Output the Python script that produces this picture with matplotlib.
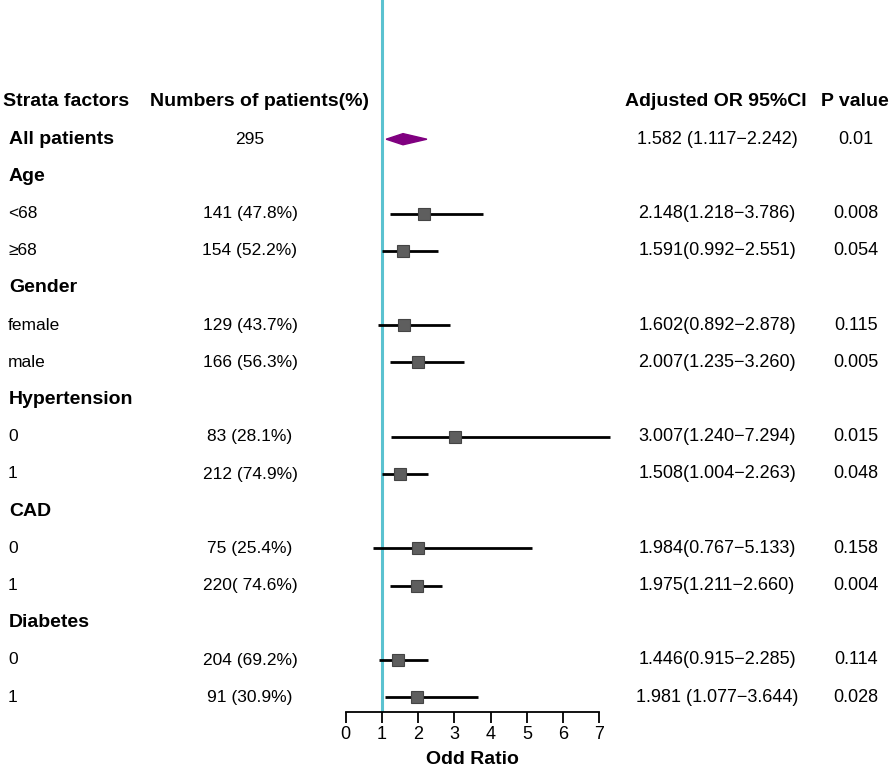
import matplotlib.pyplot as plt
import matplotlib.transforms as mtransforms

plt.rcParams['font.family'] = ['Liberation Sans', 'DejaVu Sans']

# rows, top to bottom (header is row 0)
labels = ["All patients", "Age", "<68", "≥68", "Gender", "female", "male",
          "Hypertension", "0", "1", "CAD", "0", "1", "Diabetes", "0", "1"]
bold_rows = ["All patients", "Age", "Gender", "Hypertension", "CAD", "Diabetes"]
numbers = ["295", "", "141 (47.8%)", "154 (52.2%)", "", "129 (43.7%)", "166 (56.3%)",
           "", "83 (28.1%)", "212 (74.9%)", "", "75 (25.4%)", "220( 74.6%)",
           "", "204 (69.2%)", "91 (30.9%)"]
or_text = ["1.582 (1.117\u22122.242)", "", "2.148(1.218\u22123.786)", "1.591(0.992\u22122.551)",
           "", "1.602(0.892\u22122.878)", "2.007(1.235\u22123.260)", "",
           "3.007(1.240\u22127.294)", "1.508(1.004\u22122.263)", "",
           "1.984(0.767\u22125.133)", "1.975(1.211\u22122.660)", "",
           "1.446(0.915\u22122.285)", "1.981 (1.077\u22123.644)"]
p_text = ["0.01", "", "0.008", "0.054", "", "0.115", "0.005", "", "0.015", "0.048",
          "", "0.158", "0.004", "", "0.114", "0.028"]

# odds ratios (None for group headers)
or_val = [1.582, None, 2.148, 1.591, None, 1.602, 2.007, None, 3.007, 1.508,
          None, 1.984, 1.975, None, 1.446, 1.981]
ci_lo = [1.117, None, 1.218, 0.992, None, 0.892, 1.235, None, 1.240, 1.004,
         None, 0.767, 1.211, None, 0.915, 1.077]
ci_hi = [2.242, None, 3.786, 2.551, None, 2.878, 3.260, None, 7.294, 2.263,
         None, 5.133, 2.660, None, 2.285, 3.644]

W, H = 893, 775
fig = plt.figure(figsize=(W / 100, H / 100), dpi=100)
ax_left, ax_right, ax_bottom = 345.7, 599.3, 711.7
ax = fig.add_axes([ax_left / W, (H - ax_bottom) / H, (ax_right - ax_left) / W, ax_bottom / H])

row_h = 37.2
top_row_px = 102
ax.set_xlim(0, 7)
ax.set_ylim((ax_bottom - top_row_px) / row_h, -top_row_px / row_h)

for s in ["top", "right", "left"]:
    ax.spines[s].set_visible(False)
ax.spines["bottom"].set_linewidth(1.3)
ax.set_yticks([])
ax.set_xticks(range(0, 8))
ax.tick_params(axis="x", length=8, width=1.3, labelsize=13, pad=2)
ax.set_xlabel("Odd Ratio", fontsize=14, fontweight="bold", labelpad=6)

ax.axvline(1, color="#5bc2d0", lw=2.2, zorder=1)

for i, (o, lo, hi) in enumerate(zip(or_val, ci_lo, ci_hi)):
    y = i + 1
    if o is None:
        continue
    if i == 0:
        h = 0.15
        ax.fill([lo, o, hi, o], [y, y - h, y, y + h], color="#800080", zorder=3,
                clip_on=False)
    else:
        ax.plot([lo, hi], [y, y], color="black", lw=2, zorder=2, clip_on=False,
                solid_capstyle="butt")
        ax.plot(o, y, marker="s", ms=8.5, color="#5e5e5e", mec="#444444", mew=0.8,
                zorder=3, clip_on=False)

# text columns: x in figure pixels, y in data rows
trans = mtransforms.blended_transform_factory(
    mtransforms.Affine2D().scale(1 / W, 1) + fig.transFigure, ax.transData)

hs = 14
ax.text(3, 0, "Strata factors", transform=trans, ha="left", va="center",
        fontsize=hs, fontweight="bold")
ax.text(259, 0, "Numbers of patients(%)", transform=trans, ha="center", va="center",
        fontsize=hs, fontweight="bold")
ax.text(716, 0, "Adjusted OR 95%CI", transform=trans, ha="center", va="center",
        fontsize=hs, fontweight="bold")
ax.text(855, 0, "P value", transform=trans, ha="center", va="center",
        fontsize=hs, fontweight="bold")

for i, lab in enumerate(labels):
    y = i + 1
    if lab in bold_rows:
        ax.text(9, y, lab, transform=trans, ha="left", va="center",
                fontsize=hs, fontweight="bold")
    else:
        ax.text(8, y, lab, transform=trans, ha="left", va="center", fontsize=12.5)
    if numbers[i]:
        ax.text(250, y, numbers[i], transform=trans, ha="center", va="center", fontsize=12.5)
    if or_text[i]:
        ax.text(717, y, or_text[i], transform=trans, ha="center", va="center", fontsize=13)
    if p_text[i]:
        ax.text(856, y, p_text[i], transform=trans, ha="center", va="center", fontsize=13)

fig.savefig("out.png", dpi=100)
